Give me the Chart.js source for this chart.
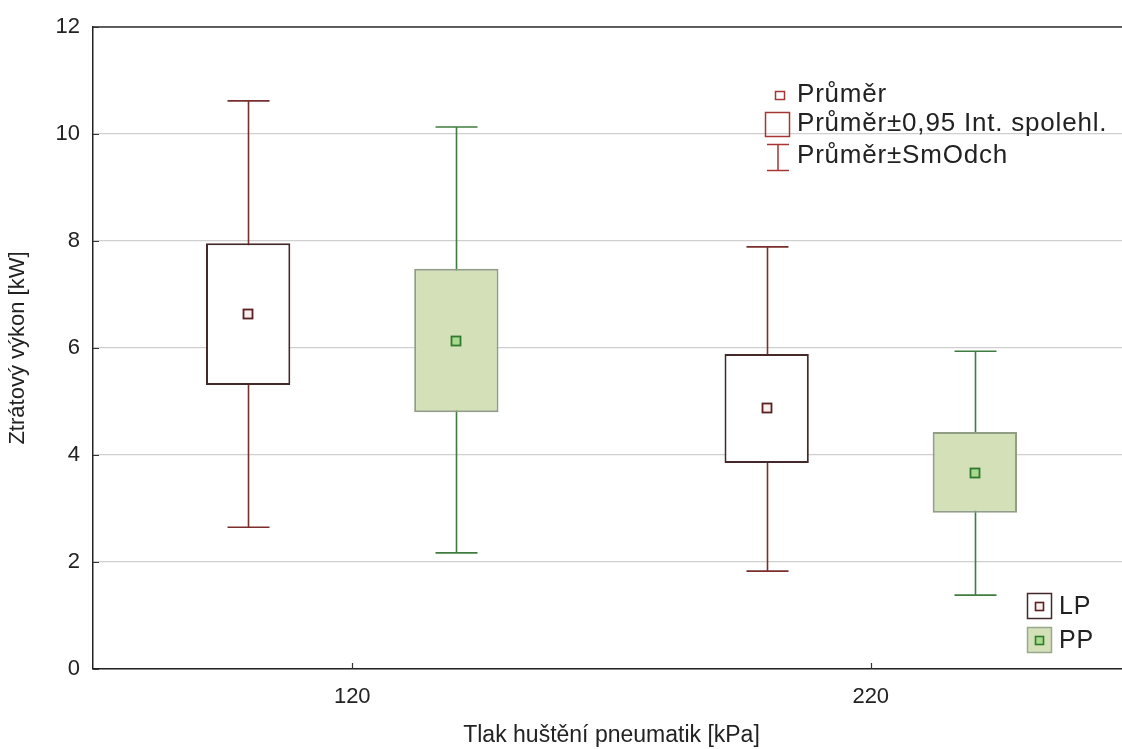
<!DOCTYPE html>
<html>
<head>
<meta charset="utf-8">
<script src="https://cdn.jsdelivr.net/npm/chart.js@4"></script>
<style>
  html, body { margin: 0; padding: 0; background: #fff; overflow: hidden; }
  #wrap { width: 1130px; height: 749px; position: relative; }
</style>
</head>
<body>
<div id="wrap"><canvas id="c"></canvas></div>
<script>
// Tyre inflation pressure groups [kPa]
const categories = ['120', '220'];
const seriesNames = ['LP', 'PP'];

// LP: mean, mean ± 0.95 confidence interval, mean ± standard deviation [kW]
const lpMean   = [6.63, 4.87];
const lpCiLow  = [5.31, 3.85];
const lpCiHigh = [7.96, 5.89];
const lpSdLow  = [2.65, 1.83];
const lpSdHigh = [10.62, 7.89];

// PP: mean, mean ± 0.95 confidence interval, mean ± standard deviation [kW]
const ppMean   = [6.14, 3.67];
const ppCiLow  = [4.80, 2.92];
const ppCiHigh = [7.48, 4.43];
const ppSdLow  = [2.17, 1.38];
const ppSdHigh = [10.13, 5.94];

const yTicks = [0, 2, 4, 6, 8, 10, 12];

const FONT = '"Liberation Sans", Arial, sans-serif';
const TEXT = '#222222';

const styles = [
  { box: '#ffffff', boxEdge: '#45292a', whisker: '#7a2e2e', meanEdge: '#5a1f1f', meanFill: '#fbeeee' },
  { box: '#d3e0b8', boxEdge: '#8f9e85', whisker: '#3f7d3f', meanEdge: '#2f7a2f', meanFill: '#a9d98c' }
];
const stats = [
  { mean: lpMean, sdLow: lpSdLow, sdHigh: lpSdHigh },
  { mean: ppMean, sdLow: ppSdLow, sdHigh: ppSdHigh }
];

// Whiskers (mean ± SD) under the boxes, mean markers, frame and legends on top
const boxPlotExtras = {
  id: 'boxPlotExtras',
  beforeDatasetsDraw(chart) {
    const ctx = chart.ctx, y = chart.scales.y;
    ctx.save();
    stats.forEach((s, di) => {
      const meta = chart.getDatasetMeta(di);
      meta.data.forEach((bar, i) => {
        const x = Math.round(bar.x) + 0.5;
        const yTop = y.getPixelForValue(s.sdHigh[i]);
        const yBot = y.getPixelForValue(s.sdLow[i]);
        ctx.strokeStyle = styles[di].whisker;
        ctx.lineWidth = 1.6;
        ctx.beginPath();
        ctx.moveTo(x, yTop); ctx.lineTo(x, yBot);
        ctx.moveTo(x - 21, yTop); ctx.lineTo(x + 21, yTop);
        ctx.moveTo(x - 21, yBot); ctx.lineTo(x + 21, yBot);
        ctx.stroke();
      });
    });
    ctx.restore();
  },
  afterDatasetsDraw(chart) {
    const ctx = chart.ctx, y = chart.scales.y;
    ctx.save();
    stats.forEach((s, di) => {
      const meta = chart.getDatasetMeta(di);
      meta.data.forEach((bar, i) => {
        const x = Math.round(bar.x);
        const ym = Math.round(y.getPixelForValue(s.mean[i]));
        ctx.fillStyle = styles[di].meanFill;
        ctx.fillRect(x - 4.5, ym - 4.5, 9, 9);
        ctx.strokeStyle = styles[di].meanEdge;
        ctx.lineWidth = 1.8;
        ctx.strokeRect(x - 4.5, ym - 4.5, 9, 9);
      });
    });
    ctx.restore();
  },
  afterDraw(chart) {
    const ctx = chart.ctx, area = chart.chartArea;
    const x = chart.scales.x, y = chart.scales.y;
    ctx.save();
    // top frame line
    ctx.strokeStyle = '#333';
    ctx.lineWidth = 1.5;
    ctx.beginPath();
    ctx.moveTo(area.left, area.top); ctx.lineTo(area.right + 10, area.top);
    ctx.stroke();
    // inner tick marks
    ctx.lineWidth = 1.2;
    ctx.beginPath();
    yTicks.forEach(v => {
      const py = Math.round(y.getPixelForValue(v)) + 0.5;
      ctx.moveTo(area.left, py); ctx.lineTo(area.left + 6, py);
    });
    categories.forEach((c, i) => {
      const px = Math.round(x.getPixelForValue(i)) + 0.5;
      ctx.moveTo(px, area.bottom); ctx.lineTo(px, area.bottom - 6);
    });
    ctx.stroke();

    // statistics legend
    const red = '#a83434';
    ctx.strokeStyle = red;
    ctx.lineWidth = 1.5;
    ctx.strokeRect(775.5, 91.5, 9, 8);
    ctx.strokeRect(765.5, 112.5, 24, 24);
    ctx.beginPath();
    ctx.moveTo(767, 144.5); ctx.lineTo(789, 144.5);
    ctx.moveTo(778, 144.5); ctx.lineTo(778, 170.5);
    ctx.moveTo(767, 170.5); ctx.lineTo(789, 170.5);
    ctx.stroke();
    ctx.fillStyle = TEXT;
    ctx.font = '26px ' + FONT;
    ctx.letterSpacing = '0.8px';
    ctx.textBaseline = 'middle';
    ctx.textAlign = 'left';
    ctx.fillText('Průměr', 797, 95);
    ctx.fillText('Průměr±0,95 Int. spolehl.', 797, 124);
    ctx.fillText('Průměr±SmOdch', 797, 156);

    // series legend
    const rows = [606, 640];
    seriesNames.forEach((name, i) => {
      const cy = rows[i];
      ctx.fillStyle = styles[i].box;
      ctx.fillRect(1027, cy - 12, 24, 25);
      ctx.strokeStyle = i === 0 ? styles[0].boxEdge : '#9aa98e';
      ctx.lineWidth = 1.5;
      ctx.strokeRect(1027.5, cy - 12.5, 24, 25);
      ctx.fillStyle = styles[i].meanFill;
      ctx.fillRect(1035.5, cy - 3.5, 8, 8);
      ctx.strokeStyle = styles[i].meanEdge;
      ctx.lineWidth = 1.6;
      ctx.strokeRect(1035.5, cy - 3.5, 8, 8);
      ctx.fillStyle = TEXT;
      ctx.font = '25px ' + FONT;
      ctx.fillText(name, 1059, cy + 1);
    });
    ctx.restore();
  }
};

const datasets = seriesNames.map((name, di) => {
  const lo = di === 0 ? lpCiLow : ppCiLow;
  const hi = di === 0 ? lpCiHigh : ppCiHigh;
  return {
    label: name,
    data: categories.map((c, i) => [lo[i], hi[i]]),
    backgroundColor: styles[di].box,
    borderColor: styles[di].boxEdge,
    borderWidth: 2,
    borderSkipped: false,
    categoryPercentage: 0.803,
    barPercentage: 0.405
  };
});

new Chart(document.getElementById('c'), {
  type: 'bar',
  data: { labels: categories, datasets },
  options: {
    responsive: true,
    maintainAspectRatio: false,
    animation: false,
    layout: { padding: { top: 27, right: 0, left: 0, bottom: 0 } },
    plugins: { legend: { display: false }, tooltip: { enabled: false } },
    scales: {
      x: {
        type: 'category',
        offset: true,
        grid: { display: false, drawTicks: false },
        border: { display: true, color: '#222', width: 1.5 },
        ticks: { color: TEXT, font: { family: FONT, size: 22 }, padding: 15 },
        title: { display: true, text: 'Tlak huštění pneumatik [kPa]', color: TEXT,
                 font: { family: FONT, size: 23 }, padding: { top: 0, bottom: 0 } },
        afterFit(scale) { scale.height = 80; }
      },
      y: {
        min: 0, max: 12,
        afterBuildTicks(scale) { scale.ticks = yTicks.map(v => ({ value: v })); },
        grid: { color: '#cfcfcf', lineWidth: 1.2, drawTicks: false },
        border: { display: true, color: '#222', width: 1.5 },
        ticks: { color: TEXT, font: { family: FONT, size: 22 }, padding: 13 },
        title: { display: true, text: 'Ztrátový výkon [kW]', color: TEXT,
                 font: { family: FONT, size: 22 }, padding: { top: 5, bottom: 0 } },
        afterFit(scale) { scale.width = 93; }
      }
    }
  },
  plugins: [boxPlotExtras]
});
</script>
</body>
</html>
